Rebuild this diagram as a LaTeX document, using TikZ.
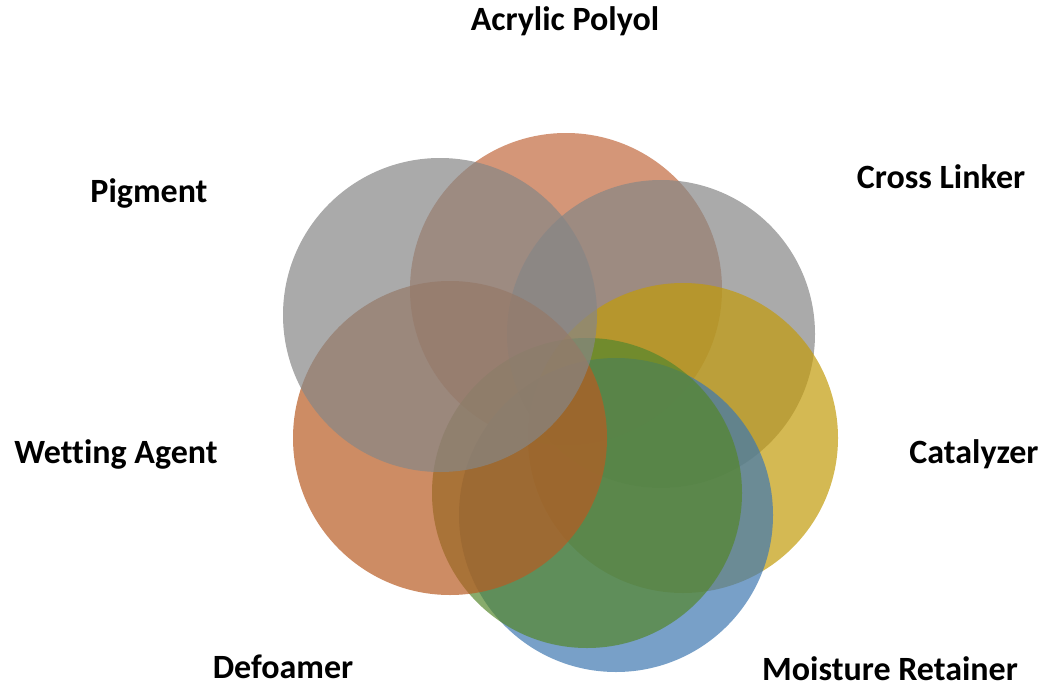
\documentclass[tikz,border=0pt]{standalone}
\usepackage{fontspec}
\setmainfont[Ligatures=NoCommon]{Carlito}
\begin{document}
\begin{tikzpicture}[x=1pt,y=-1pt,
  disc/.style={circle,inner sep=0pt,minimum size=#1,fill opacity=0.7,draw=none},
  lbl/.style={anchor=base,font=\fontsize{34}{40}\selectfont\bfseries,text=black}]
\definecolor{cOrangeA}{HTML}{C2693E}
\definecolor{cGray}{HTML}{868686}
\definecolor{cYellow}{HTML}{C29B0A}
\definecolor{cBlue}{HTML}{3E77B0}
\definecolor{cGreen}{HTML}{55872D}
\definecolor{cOrangeW}{HTML}{B85B22}
\useasboundingbox (0,0) rectangle (1043,690);
% overlapping translucent discs, back to front
\node[disc=312pt,fill=cOrangeA]  (polyol)   at (566,289) {};
\node[disc=308pt,fill=cGray]     (linker)   at (661,334) {};
\node[disc=310pt,fill=cYellow]   (catal)    at (683,438) {};
\node[disc=314pt,fill=cBlue]     (moist)    at (616,515) {};
\node[disc=310pt,fill=cGreen]    (defoam)   at (587,493) {};
\node[disc=314pt,fill=cOrangeW]  (wetting)  at (450,438) {};
\node[disc=314pt,fill=cGray]     (pigment)  at (440,315) {};
% labels
\node[lbl] (tPolyol)  at (565,31)  {Acrylic Polyol};
\node[lbl] (tLinker)  at (941,188) {Cross Linker};
\node[lbl] (tCatal)   at (974,463) {Catalyzer};
\node[lbl] (tMoist)   at (890,680) {Moisture Retainer};
\node[lbl] (tDefoam)  at (283,678) {Defoamer};
\node[lbl] (tWetting) at (116,463) {Wetting Agent};
\node[lbl] (tPigment) at (149,202) {Pigment};
\end{tikzpicture}
\end{document}
